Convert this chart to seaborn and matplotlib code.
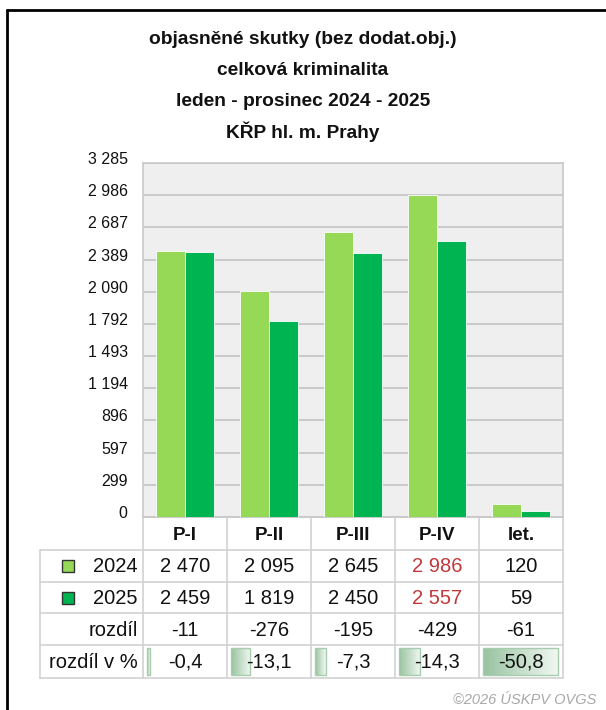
import numpy as np
import pandas as pd
import matplotlib
matplotlib.use("Agg")
import matplotlib.pyplot as plt
import seaborn as sns
from matplotlib.lines import Line2D
from matplotlib.patches import Rectangle
from matplotlib.colors import LinearSegmentedColormap
import matplotlib.transforms as mtransforms

# ---------------- data ----------------
categories = ["P-I", "P-II", "P-III", "P-IV", "let."]
years = ["2024", "2025"]
values_2024 = [2470, 2095, 2645, 2986, 120]
values_2025 = [2459, 1819, 2450, 2557, 59]
diff_values = [-11, -276, -195, -429, -61]
pct_values = [-0.4, -13.1, -7.3, -14.3, -50.8]
y_max = 3285
y_ticks = [0, 299, 597, 896, 1194, 1493, 1792, 2090, 2389, 2687, 2986, 3285]
title_lines = ["objasněné skutky (bez dodat.obj.)", "celková kriminalita",
               "leden - prosinec 2024 - 2025", "KŘP hl. m. Prahy"]
red_columns = ["P-IV"]
footer = "©2026 ÚSKPV OVGS"

c_light = "#96d957"
c_dark = "#00b551"
grid_c = "#c9c9c9"
line_c = "#d2d2d2"
red_c = "#c0393b"

def fmt(v):
    s = f"{abs(v):,}".replace(",", " ")
    return ("-" if v < 0 else "") + s

def fmt_pct(v):
    return f"{v:.1f}".replace(".", ",")

sns.set_theme(style="white")
plt.rcParams["font.family"] = ["Liberation Sans", "DejaVu Sans"]

W, H = 606, 710
fig = plt.figure(figsize=(W / 100, H / 100), dpi=100)
fig.patch.set_facecolor("white")

# overlay axes in pixel coordinates
ov = fig.add_axes([0, 0, 1, 1], zorder=0)
ov.set_xlim(0, W)
ov.set_ylim(H, 0)
ov.axis("off")
ov.patch.set_alpha(0)

# chart axes
L, R, T, B = 143, 563, 163, 517
ax = fig.add_axes([L / W, 1 - B / H, (R - L) / W, (B - T) / H], zorder=2)
df = pd.DataFrame({
    "cat": categories * 2,
    "year": [years[0]] * len(categories) + [years[1]] * len(categories),
    "val": values_2024 + values_2025,
})
sns.barplot(data=df, x="cat", y="val", hue="year", order=categories,
            hue_order=years, palette=[c_light, c_dark], width=0.68,
            saturation=1, edgecolor="white", linewidth=0.6, legend=False,
            ax=ax, zorder=3)
ax.set_facecolor("#efefef")
ax.set_ylim(0, y_max)
ax.set_xlim(-0.5, len(categories) - 0.5)
ax.set_yticks(y_ticks)
ax.set_yticklabels([fmt(t) for t in y_ticks])
ax.set_xticks([])
ax.set_xlabel("")
ax.set_ylabel("")
ax.yaxis.grid(True, color=grid_c, linewidth=1.4, zorder=0)
ax.set_axisbelow(True)
for s in ax.spines.values():
    s.set_color(grid_c)
    s.set_linewidth(1.2)
ax.tick_params(axis="y", length=0, pad=11, labelsize=11.5, labelcolor="#111111")
off = mtransforms.ScaledTranslation(0, 5 / 100, fig.dpi_scale_trans)
for lab in ax.get_yticklabels():
    lab.set_transform(lab.get_transform() + off)

# titles
for i, t in enumerate(title_lines):
    ov.text(303, 40 + i * 30.5, t, ha="center", va="center", fontsize=13.8,
            fontweight="bold", color="#111111")

# black frame
ov.add_line(Line2D([7, W], [10, 10], color="black", linewidth=2))
ov.add_line(Line2D([7, 7], [10, H], color="black", linewidth=2))

# table
col_w = (R - L) / len(categories)
col_edges = [L + i * col_w for i in range(len(categories) + 1)]
row_lines = [B, 550, 582, 613, 645, 678]
tab_left = 40
for k, y in enumerate(row_lines):
    x0 = L if k <= 0 else tab_left
    ov.add_line(Line2D([x0, R], [y, y], color=line_c, linewidth=1.2))
for x in col_edges:
    ov.add_line(Line2D([x, x], [B, row_lines[-1]], color=line_c, linewidth=1.2))
ov.add_line(Line2D([tab_left, tab_left], [550, row_lines[-1]], color=line_c, linewidth=1.2))

centers_y = [(row_lines[i] + row_lines[i + 1]) / 2 for i in range(len(row_lines) - 1)]
centers_x = [(col_edges[i] + col_edges[i + 1]) / 2 for i in range(len(categories))]

for cx, c in zip(centers_x, categories):
    ov.text(cx, centers_y[0] + 2, c, ha="center", va="center", fontsize=13.5,
            fontweight="bold", color="#111111")

row_labels = ["2024", "2025", "rozdíl", "rozdíl v %"]
for i, lab in enumerate(row_labels):
    ov.text(138, centers_y[i + 1] + 1, lab, ha="right", va="center",
            fontsize=14.5, color="#111111")
for i, col in enumerate([c_light, c_dark]):
    cy = centers_y[i + 1]
    ov.add_patch(Rectangle((62, cy - 6), 12, 12, facecolor=col,
                           edgecolor="#333333", linewidth=1))

for j, c in enumerate(categories):
    cx = centers_x[j]
    tc = red_c if c in red_columns else "#111111"
    ov.text(cx, centers_y[1] + 1, fmt(values_2024[j]), ha="center", va="center",
            fontsize=14.5, color=tc)
    ov.text(cx, centers_y[2] + 1, fmt(values_2025[j]), ha="center", va="center",
            fontsize=14.5, color=tc)
    ov.text(cx, centers_y[3] + 1, fmt(diff_values[j]), ha="center", va="center",
            fontsize=14.5, color="#111111")

cmap = LinearSegmentedColormap.from_list("g", ["#98c3a0", "#f2f8f3"])
grad = np.linspace(0, 1, 64).reshape(1, -1)
for j, p in enumerate(pct_values):
    x0 = col_edges[j] + 4
    w = max(3, abs(p) * 1.48)
    y0, y1 = row_lines[4] + 3, row_lines[5] - 3
    ov.imshow(grad, cmap=cmap, extent=[x0, x0 + w, y1, y0], aspect="auto",
              interpolation="bilinear", zorder=1)
    ov.add_patch(Rectangle((x0, y0), w, y1 - y0, facecolor="none",
                           edgecolor="#a7ccae", linewidth=1, zorder=2))
    ov.text(centers_x[j], centers_y[4] + 1, fmt_pct(p), ha="center", va="center",
            fontsize=14.5, color="#111111", zorder=3)
ov.set_xlim(0, W)
ov.set_ylim(H, 0)

ov.text(596, 700, footer, ha="right", va="center", fontsize=10.5,
        style="italic", color="#a8a8a8")

fig.savefig("out.png", dpi=100, facecolor="white")
